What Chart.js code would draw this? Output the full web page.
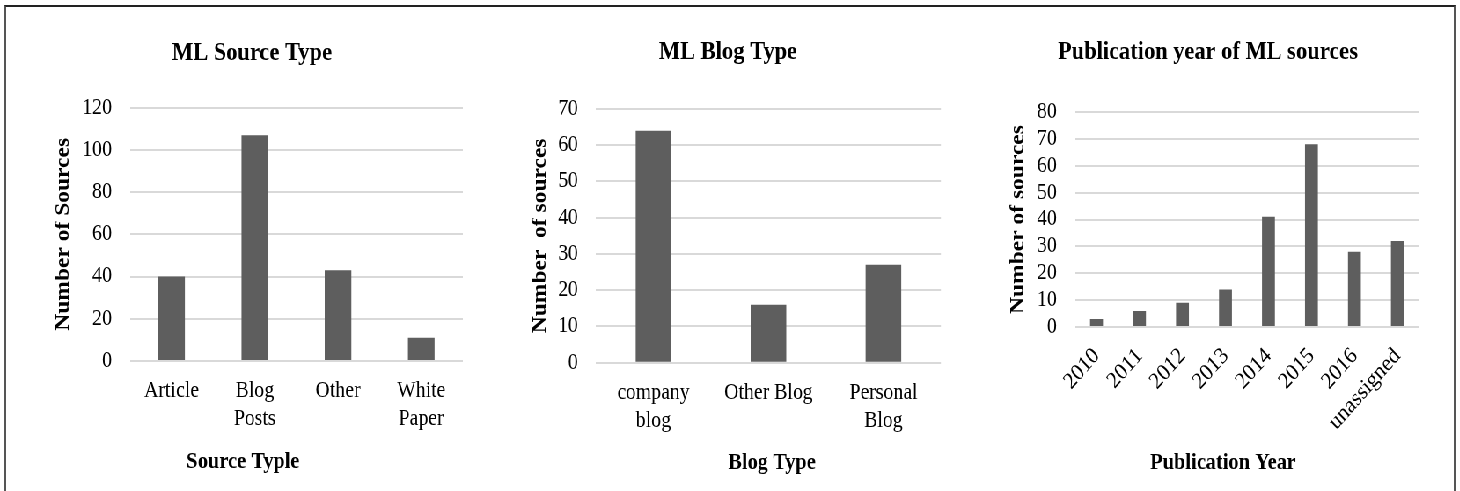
<!DOCTYPE html>
<html>
<head>
<meta charset="utf-8">
<script src="https://cdn.jsdelivr.net/npm/chart.js@4.4.1/dist/chart.umd.min.js"></script>
<style>
  html, body { margin: 0; padding: 0; background: #fff; width: 1460px; height: 491px; overflow: hidden; }
  #frame { position: absolute; left: 4px; top: 5px; width: 1448px; height: 600px; border: 2px solid #555; border-top-color: #222; }
  #stage { position: absolute; left: 0; top: 0; width: 1659px; height: 491px; transform: scaleX(0.88); transform-origin: 0 0; }
  canvas { position: absolute; left: 0; top: 0; }
</style>
</head>
<body>
<div id="frame"></div>
<div id="stage">
<canvas id="c1" width="1659" height="491"></canvas>
<canvas id="c2" width="1659" height="491"></canvas>
<canvas id="c3" width="1659" height="491"></canvas>
</div>
<script>
// ---- data ----
const sourceTypeLabels = [['Article'], ['Blog', 'Posts'], ['Other'], ['White', 'Paper']];
const sourceTypeValues = [40, 107, 43, 11];

const blogTypeLabels = [['company', 'blog'], ['Other Blog'], ['Personal', 'Blog']];
const blogTypeValues = [64, 16, 27];

const yearLabels = ['2010', '2011', '2012', '2013', '2014', '2015', '2016', 'unassigned'];
const yearValues = [3, 6, 9, 14, 41, 68, 28, 32];

const titles = ['ML Source Type', 'ML Blog Type', 'Publication year of ML sources'];
const xTitles = ['Source Typle', 'Blog Type', 'Publication Year'];
const yTitles = ['Number of Sources', 'Number  of sources', 'Number of sources'];

// ---- styling ----
const SERIF = "'Liberation Serif', 'Times New Roman', serif";
Chart.defaults.font.family = SERIF;
Chart.defaults.color = '#000';
const BAR = '#5e5e5e';
const GRID = '#d9d9d9';

const xTitlePlugin = {
  id: 'xTitleOffset',
  afterDraw(chart, args, opts) {
    const ctx = chart.ctx;
    const a = chart.chartArea;
    ctx.save();
    ctx.font = 'bold ' + opts.size + 'px ' + SERIF;
    ctx.fillStyle = '#000';
    ctx.textAlign = 'center';
    ctx.textBaseline = 'middle';
    ctx.fillText(opts.text, (a.left + a.right) / 2 + opts.dx, a.bottom + opts.dy);
    ctx.restore();
  }
};

function makeChart(id, cfg) {
  return new Chart(document.getElementById(id), {
    type: 'bar',
    data: {
      labels: cfg.labels,
      datasets: [{ data: cfg.values, backgroundColor: BAR, borderWidth: 0,
                   categoryPercentage: 1, barPercentage: cfg.barPct }]
    },
    plugins: [xTitlePlugin],
    options: {
      responsive: false,
      animation: false,
      layout: { padding: cfg.layout },
      plugins: {
        legend: { display: false },
        tooltip: { enabled: false },
        title: { display: true, text: cfg.title, font: { size: 25.5, weight: 'bold' },
                 padding: cfg.titlePad, color: '#000' },
        xTitleOffset: { text: cfg.xTitle, size: 23.2, dx: cfg.xtDx, dy: cfg.xtDy }
      },
      scales: {
        x: {
          grid: { display: false, drawTicks: false },
          border: { display: false },
          ticks: { font: { size: cfg.xTickSize, lineHeight: 1.244 }, padding: cfg.xTickPad, autoSkip: false,
                   minRotation: cfg.rot, maxRotation: cfg.rot, color: '#000' },
          afterFit(scale) { scale.height = cfg.xHeight; }
        },
        y: {
          min: 0, max: cfg.max,
          grid: { color: GRID, lineWidth: 2, drawTicks: false },
          border: { display: false },
          ticks: { stepSize: cfg.step, autoSkip: false, font: { size: 22.5 }, padding: 20.5, color: '#000' },
          title: { display: true, text: cfg.yTitle, font: { size: 23.5, weight: 'bold' },
                   padding: { top: cfg.yTitlePad, bottom: 0 }, color: '#000' },
          afterFit(scale) { scale.width = cfg.yWidth; }
        }
      }
    }
  });
}

makeChart('c1', {
  labels: sourceTypeLabels, values: sourceTypeValues, barPct: 0.32,
  title: titles[0], xTitle: xTitles[0], yTitle: yTitles[0],
  max: 120, step: 20,
  layout: { left: 46.7, right: 1133, top: 0, bottom: 0 },
  titlePad: { top: 37.7, bottom: 39.4 },
  yWidth: 101, xHeight: 130, yTitlePad: 10.8, xTickPad: 16, xTickSize: 22.5, rot: 0,
  xtDx: -60.8, xtDy: 101.5
});

makeChart('c2', {
  labels: blogTypeLabels, values: blogTypeValues, barPct: 0.31,
  title: titles[1], xTitle: xTitles[1], yTitle: yTitles[1],
  max: 70, step: 10,
  layout: { left: 585.3, right: 589.8, top: 0, bottom: 0 },
  titlePad: { top: 36.7, bottom: 41.7 },
  yWidth: 92, xHeight: 128.3, yTitlePad: 14.2, xTickPad: 16, xTickSize: 22.5, rot: 0,
  xtDx: 4, xtDy: 100.5
});

makeChart('c3', {
  labels: yearLabels, values: yearValues, barPct: 0.30,
  title: titles[2], xTitle: xTitles[2], yTitle: yTitles[2],
  max: 80, step: 10,
  layout: { left: 1132.9, right: 46.6, top: 0, bottom: 0 },
  titlePad: { top: 36.7, bottom: 44.7 },
  yWidth: 88.7, xHeight: 164, yTitlePad: 9.8, xTickPad: 15, xTickSize: 23.5, rot: 45,
  xtDx: -27.2, xtDy: 136
});
</script>
</body>
</html>
